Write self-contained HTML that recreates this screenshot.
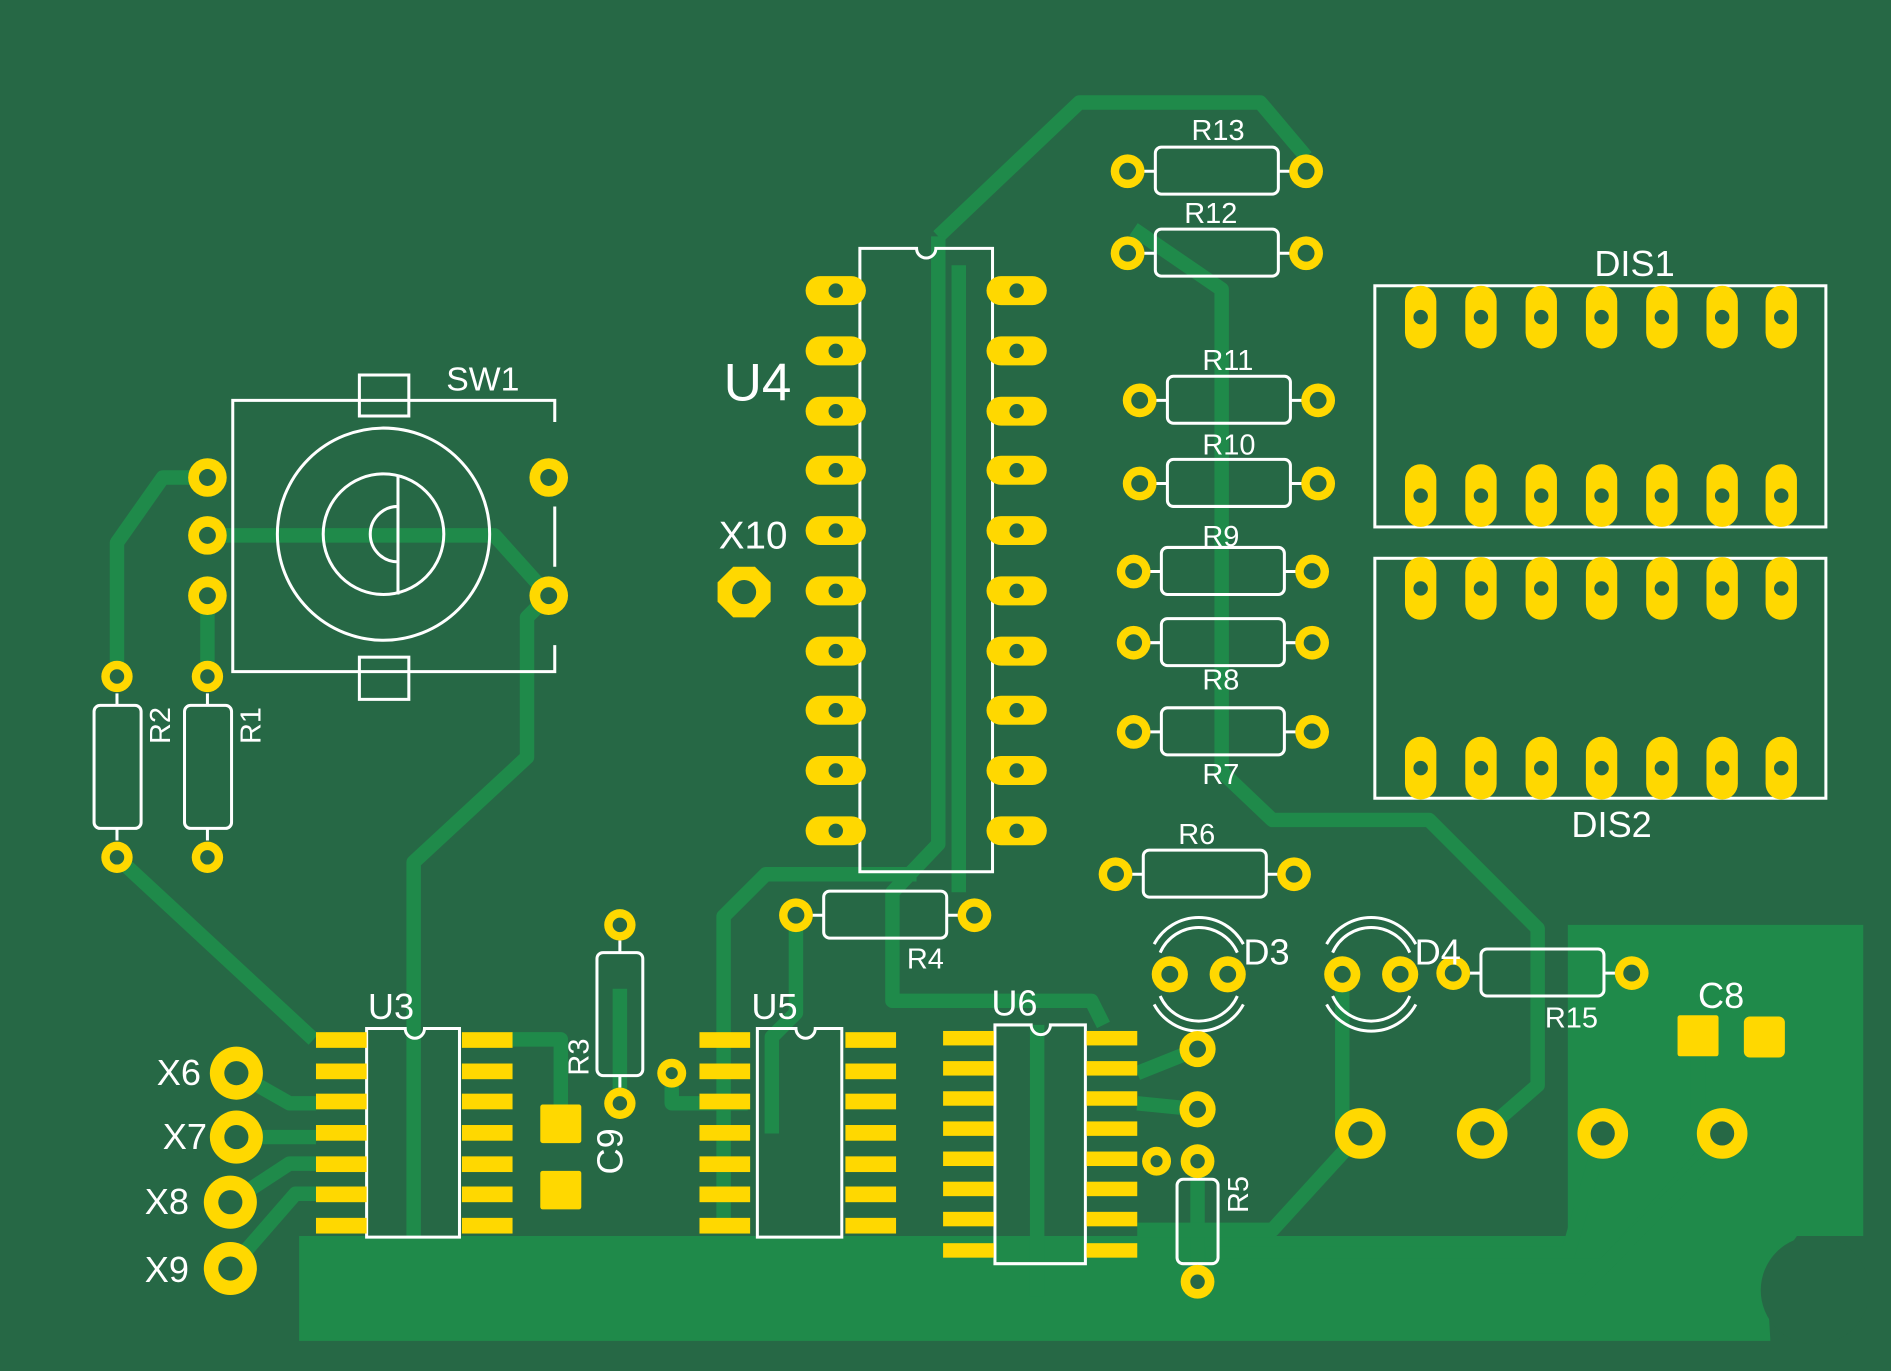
<!DOCTYPE html>
<html><head><style>html,body{margin:0;padding:0;background:#266845;overflow:hidden}svg{display:block}</style></head><body>
<svg width="1891" height="1371" viewBox="0 0 1568 1137" preserveAspectRatio="none" xmlns="http://www.w3.org/2000/svg" font-family="Liberation Sans, sans-serif">
<rect width="1568" height="1137" fill="#266845"/>
<path d="M248,1025 L1300,1025 L1300,767 L1545,767 L1545,1025 L1490,1025 L1465,1060 L1468,1112 L248,1112 Z" fill="#1f8a4a"/>
<circle cx="1505" cy="1070" r="45" fill="#266845"/>
<g stroke="#1f8a4a" stroke-width="12" fill="none" stroke-linejoin="round">
<path d="M172,396 L135,396 L97,450 L97,561"/>
<path d="M172,494 L172,561"/>
<path d="M97,711 L260,862"/>
<path d="M172,444 L410,444 L455,494"/>
<path d="M455,494 L437,512 L437,628 L343,715 L343,1025"/>
<path d="M778,196 L895,85 L1045,85 L1083,130"/>
<path d="M778,196 L778,700 L740,740 L740,830 L905,830 L915,850"/>
<path d="M795,220 L795,740"/>
<path d="M940,190 L1013,240 L1013,640 L1055,680 L1185,680 L1275,770 L1275,900 L1229,940"/>
<path d="M660,759 L660,840 L640,860 L640,940"/>
<path d="M600,1020 L600,760 L635,725 L760,725"/>
<path d="M514,915 L514,820"/>
<path d="M557,890 L557,915 L620,915"/>
<path d="M196,890 L240,915 L262,915"/>
<path d="M196,943 L262,943"/>
<path d="M191,997 L240,965 L262,965"/>
<path d="M191,1052 L245,990 L262,990"/>
<path d="M424,862 L465,862 L465,932"/>
<path d="M943,890 L993,870"/>
<path d="M943,915 L993,920"/>
<path d="M993,963 L993,1063"/>
<path d="M943,1020 L1055,1020 L1128,940"/>
<path d="M1113,808 L1113,940"/>
<path d="M1000,1040 L1300,1040 L1329,940"/>
<path d="M1000,1050 L1330,1050 L1428,940"/>
<path d="M860,1070 L1310,1070 L1428,950"/>
<path d="M860,850 L860,1075"/>
<path d="M1408,858 L1408,920 L1428,940"/>
</g>
<g stroke="#fff" stroke-width="2.5" fill="none">
<path d="M460,350 L460,332 L193,332 L193,557 L460,557 L460,535 M460,420 L460,470"/>
<circle cx="318" cy="443" r="88"/><circle cx="318" cy="443" r="50"/>
<path d="M330,395 L330,493 M330,420 A23,23 0 1 0 330,466"/>
<rect x="298" y="311" width="41" height="34"/><rect x="298" y="545" width="41" height="35"/>
<path d="M713,206 L760,206 A8,8 0 0 0 776,206 L823,206 L823,723 L713,723 Z"/>
<rect x="1140" y="237" width="374" height="200"/><rect x="1140" y="463" width="374" height="199"/>
<path d="M304,853 L336,853 A8,8 0 0 0 352,853 L381,853 L381,1026 L304,1026 Z"/>
<path d="M628,853 L660,853 A8,8 0 0 0 676,853 L698,853 L698,1026 L628,1026 Z"/>
<path d="M825,850 L855,850 A8,8 0 0 0 871,850 L900,850 L900,1048 L825,1048 Z"/>
<path d="M962,790 A35,35 0 0 1 1026,790 M962,826 A35,35 0 0 0 1026,826 M957,783 A42,42 0 0 1 1031,783 M957,833 A42,42 0 0 0 1031,833"/>
<path d="M1105,790 A35,35 0 0 1 1169,790 M1105,826 A35,35 0 0 0 1169,826 M1100,783 A42,42 0 0 1 1174,783 M1100,833 A42,42 0 0 0 1174,833"/>
<rect x="958" y="122" width="102" height="39" rx="5"/><path d="M948,142 L958,142 M1060,142 L1070,142"/>
<rect x="958" y="190" width="102" height="39" rx="5"/><path d="M948,210 L958,210 M1060,210 L1070,210"/>
<rect x="968" y="312" width="102" height="39" rx="5"/><path d="M958,332 L968,332 M1070,332 L1080,332"/>
<rect x="968" y="381" width="102" height="39" rx="5"/><path d="M958,401 L968,401 M1070,401 L1080,401"/>
<rect x="963" y="454" width="102" height="39" rx="5"/><path d="M953,474 L963,474 M1065,474 L1075,474"/>
<rect x="963" y="513" width="102" height="39" rx="5"/><path d="M953,533 L963,533 M1065,533 L1075,533"/>
<rect x="963" y="587" width="102" height="39" rx="5"/><path d="M953,607 L963,607 M1065,607 L1075,607"/>
<rect x="948" y="705" width="102" height="39" rx="5"/><path d="M938,725 L948,725 M1050,725 L1060,725"/>
<rect x="683" y="739" width="102" height="39" rx="5"/><path d="M673,759 L683,759 M785,759 L795,759"/>
<rect x="1228" y="787" width="102" height="39" rx="5"/><path d="M1218,807 L1228,807 M1330,807 L1340,807"/>
<rect x="78" y="585" width="39" height="102" rx="5"/><path d="M97,575 L97,585 M97,687 L97,697"/>
<rect x="153" y="585" width="39" height="102" rx="5"/><path d="M172,575 L172,585 M172,687 L172,697"/>
<rect x="495" y="790" width="38" height="102" rx="5"/><path d="M514,780 L514,790 M514,892 L514,902"/>
<rect x="976" y="978" width="34" height="70" rx="5"/><path d="M993,972 L993,978 M993,1048 L993,1054"/>
</g>
<g fill="#ffd800">
<rect x="668" y="229" width="50" height="24" rx="12"/><rect x="668" y="279" width="50" height="24" rx="12"/><rect x="668" y="329" width="50" height="24" rx="12"/><rect x="668" y="378" width="50" height="24" rx="12"/><rect x="668" y="428" width="50" height="24" rx="12"/><rect x="668" y="478" width="50" height="24" rx="12"/><rect x="668" y="528" width="50" height="24" rx="12"/><rect x="668" y="577" width="50" height="24" rx="12"/><rect x="668" y="627" width="50" height="24" rx="12"/><rect x="668" y="677" width="50" height="24" rx="12"/>
<rect x="818" y="229" width="50" height="24" rx="12"/><rect x="818" y="279" width="50" height="24" rx="12"/><rect x="818" y="329" width="50" height="24" rx="12"/><rect x="818" y="378" width="50" height="24" rx="12"/><rect x="818" y="428" width="50" height="24" rx="12"/><rect x="818" y="478" width="50" height="24" rx="12"/><rect x="818" y="528" width="50" height="24" rx="12"/><rect x="818" y="577" width="50" height="24" rx="12"/><rect x="818" y="627" width="50" height="24" rx="12"/><rect x="818" y="677" width="50" height="24" rx="12"/>
</g>
<g fill="#266845">
<circle cx="693" cy="241" r="6"/><circle cx="693" cy="291" r="6"/><circle cx="693" cy="341" r="6"/><circle cx="693" cy="390" r="6"/><circle cx="693" cy="440" r="6"/><circle cx="693" cy="490" r="6"/><circle cx="693" cy="540" r="6"/><circle cx="693" cy="589" r="6"/><circle cx="693" cy="639" r="6"/><circle cx="693" cy="689" r="6"/>
<circle cx="843" cy="241" r="6"/><circle cx="843" cy="291" r="6"/><circle cx="843" cy="341" r="6"/><circle cx="843" cy="390" r="6"/><circle cx="843" cy="440" r="6"/><circle cx="843" cy="490" r="6"/><circle cx="843" cy="540" r="6"/><circle cx="843" cy="589" r="6"/><circle cx="843" cy="639" r="6"/><circle cx="843" cy="689" r="6"/>
</g>
<g id="disrow">
<g fill="#ffd800"><rect x="1165" y="237" width="26" height="52" rx="13"/><rect x="1215" y="237" width="26" height="52" rx="13"/><rect x="1265" y="237" width="26" height="52" rx="13"/><rect x="1315" y="237" width="26" height="52" rx="13"/><rect x="1365" y="237" width="26" height="52" rx="13"/><rect x="1415" y="237" width="26" height="52" rx="13"/><rect x="1464" y="237" width="26" height="52" rx="13"/></g>
<g fill="#266845"><circle cx="1178" cy="263" r="6"/><circle cx="1228" cy="263" r="6"/><circle cx="1278" cy="263" r="6"/><circle cx="1328" cy="263" r="6"/><circle cx="1378" cy="263" r="6"/><circle cx="1428" cy="263" r="6"/><circle cx="1477" cy="263" r="6"/></g>
</g>
<use href="#disrow" transform="translate(0,148)"/>
<use href="#disrow" transform="translate(0,225)"/>
<use href="#disrow" transform="translate(0,374)"/>
<g fill="#ffd800">
<circle cx="172" cy="396" r="16"/><circle cx="172" cy="444" r="16"/><circle cx="172" cy="494" r="16"/><circle cx="455" cy="396" r="16"/><circle cx="455" cy="494" r="16"/>
<circle cx="97" cy="561" r="13"/><circle cx="97" cy="711" r="13"/><circle cx="172" cy="561" r="13"/><circle cx="172" cy="711" r="13"/>
<circle cx="935" cy="142" r="14"/><circle cx="1083" cy="142" r="14"/><circle cx="935" cy="210" r="14"/><circle cx="1083" cy="210" r="14"/>
<circle cx="945" cy="332" r="14"/><circle cx="1093" cy="332" r="14"/><circle cx="945" cy="401" r="14"/><circle cx="1093" cy="401" r="14"/>
<circle cx="940" cy="474" r="14"/><circle cx="1088" cy="474" r="14"/><circle cx="940" cy="533" r="14"/><circle cx="1088" cy="533" r="14"/><circle cx="940" cy="607" r="14"/><circle cx="1088" cy="607" r="14"/>
<circle cx="925" cy="725" r="14"/><circle cx="1073" cy="725" r="14"/><circle cx="660" cy="759" r="14"/><circle cx="808" cy="759" r="14"/>
<circle cx="1205" cy="807" r="14"/><circle cx="1353" cy="807" r="14"/>
<circle cx="514" cy="767" r="13"/><circle cx="514" cy="915" r="13"/><circle cx="557" cy="890" r="12"/>
<circle cx="993" cy="870" r="15"/><circle cx="993" cy="920" r="15"/><circle cx="993" cy="963" r="14"/><circle cx="993" cy="1063" r="14"/><circle cx="959" cy="963" r="12"/>
<circle cx="970" cy="808" r="15"/><circle cx="1018" cy="808" r="15"/><circle cx="1113" cy="808" r="15"/><circle cx="1161" cy="808" r="15"/>
<circle cx="196" cy="890" r="22"/><circle cx="196" cy="943" r="22"/><circle cx="191" cy="997" r="22"/><circle cx="191" cy="1052" r="22"/>
<polygon points="608,470 626,470 639,483 639,499 626,512 608,512 595,499 595,483"/>
<circle cx="1128" cy="940" r="21"/><circle cx="1229" cy="940" r="21"/><circle cx="1329" cy="940" r="21"/><circle cx="1428" cy="940" r="21"/>
</g>
<g fill="#266845">
<circle cx="172" cy="396" r="7"/><circle cx="172" cy="444" r="7"/><circle cx="172" cy="494" r="7"/><circle cx="455" cy="396" r="7"/><circle cx="455" cy="494" r="7"/>
<circle cx="97" cy="561" r="6"/><circle cx="97" cy="711" r="6"/><circle cx="172" cy="561" r="6"/><circle cx="172" cy="711" r="6"/>
<circle cx="935" cy="142" r="7"/><circle cx="1083" cy="142" r="7"/><circle cx="935" cy="210" r="7"/><circle cx="1083" cy="210" r="7"/>
<circle cx="945" cy="332" r="7"/><circle cx="1093" cy="332" r="7"/><circle cx="945" cy="401" r="7"/><circle cx="1093" cy="401" r="7"/>
<circle cx="940" cy="474" r="7"/><circle cx="1088" cy="474" r="7"/><circle cx="940" cy="533" r="7"/><circle cx="1088" cy="533" r="7"/><circle cx="940" cy="607" r="7"/><circle cx="1088" cy="607" r="7"/>
<circle cx="925" cy="725" r="7"/><circle cx="1073" cy="725" r="7"/><circle cx="660" cy="759" r="7"/><circle cx="808" cy="759" r="7"/>
<circle cx="1205" cy="807" r="7"/><circle cx="1353" cy="807" r="7"/>
<circle cx="514" cy="767" r="6"/><circle cx="514" cy="915" r="6"/><circle cx="557" cy="890" r="5"/>
<circle cx="993" cy="870" r="7"/><circle cx="993" cy="920" r="7"/><circle cx="993" cy="963" r="6"/><circle cx="993" cy="1063" r="6"/><circle cx="959" cy="963" r="5"/>
<circle cx="970" cy="808" r="7"/><circle cx="1018" cy="808" r="7"/><circle cx="1113" cy="808" r="7"/><circle cx="1161" cy="808" r="7"/>
<circle cx="196" cy="890" r="10"/><circle cx="196" cy="943" r="10"/><circle cx="191" cy="997" r="10"/><circle cx="191" cy="1052" r="10"/>
<circle cx="617" cy="491" r="10"/>
<circle cx="1128" cy="940" r="10"/><circle cx="1229" cy="940" r="10"/><circle cx="1329" cy="940" r="10"/><circle cx="1428" cy="940" r="10"/>
</g>
<g fill="#ffd800">
<g id="so7"><rect x="262" y="856" width="42" height="13"/><rect x="262" y="882" width="42" height="13"/><rect x="262" y="907" width="42" height="13"/><rect x="262" y="933" width="42" height="13"/><rect x="262" y="959" width="42" height="13"/><rect x="262" y="984" width="42" height="13"/><rect x="262" y="1010" width="42" height="13"/>
<rect x="383" y="856" width="42" height="13"/><rect x="383" y="882" width="42" height="13"/><rect x="383" y="907" width="42" height="13"/><rect x="383" y="933" width="42" height="13"/><rect x="383" y="959" width="42" height="13"/><rect x="383" y="984" width="42" height="13"/><rect x="383" y="1010" width="42" height="13"/></g>
<use href="#so7" transform="translate(318,0)"/>
<rect x="782" y="855" width="42" height="12"/><rect x="782" y="880" width="42" height="12"/><rect x="782" y="905" width="42" height="12"/><rect x="782" y="930" width="42" height="12"/><rect x="782" y="955" width="42" height="12"/><rect x="782" y="980" width="42" height="12"/><rect x="782" y="1005" width="42" height="12"/><rect x="782" y="1031" width="42" height="12"/>
<rect x="901" y="855" width="42" height="12"/><rect x="901" y="880" width="42" height="12"/><rect x="901" y="905" width="42" height="12"/><rect x="901" y="930" width="42" height="12"/><rect x="901" y="955" width="42" height="12"/><rect x="901" y="980" width="42" height="12"/><rect x="901" y="1005" width="42" height="12"/><rect x="901" y="1031" width="42" height="12"/>
<rect x="448" y="916" width="34" height="32" rx="2"/><rect x="448" y="971" width="34" height="32" rx="2"/>
<rect x="1391" y="842" width="34" height="34" rx="2"/><rect x="1446" y="843" width="34" height="34" rx="5"/>
</g>
<g fill="#fff" font-size="28">
<text x="370" y="324">SW1</text>
<text x="600" y="332" font-size="44">U4</text>
<text x="596" y="455" font-size="32">X10</text>
<text x="988" y="116" font-size="24">R13</text>
<text x="982" y="185" font-size="24">R12</text>
<text x="997" y="307" font-size="24">R11</text>
<text x="997" y="377" font-size="24">R10</text>
<text x="997" y="453" font-size="24">R9</text>
<text x="997" y="572" font-size="24">R8</text>
<text x="997" y="650" font-size="24">R7</text>
<text x="977" y="700" font-size="24">R6</text>
<text x="752" y="803" font-size="24">R4</text>
<text x="1281" y="852" font-size="24">R15</text>
<text x="1322" y="229" font-size="30">DIS1</text>
<text x="1303" y="694" font-size="30">DIS2</text>
<text x="1031" y="800" font-size="30">D3</text>
<text x="1173" y="800" font-size="30">D4</text>
<text x="1408" y="836" font-size="30">C8</text>
<text x="305" y="845" font-size="30">U3</text>
<text x="623" y="845" font-size="30">U5</text>
<text x="822" y="842" font-size="30">U6</text>
<text x="130" y="900" font-size="30">X6</text>
<text x="135" y="953" font-size="30">X7</text>
<text x="120" y="1007" font-size="30">X8</text>
<text x="120" y="1063" font-size="30">X9</text>
<text transform="translate(141,617) rotate(-90)" font-size="24">R2</text>
<text transform="translate(216,617) rotate(-90)" font-size="24">R1</text>
<text transform="translate(488,892) rotate(-90)" font-size="24">R3</text>
<text transform="translate(1035,1006) rotate(-90)" font-size="24">R5</text>
<text transform="translate(516,974) rotate(-90)" font-size="30">C9</text>
</g>
</svg>
</body></html>
